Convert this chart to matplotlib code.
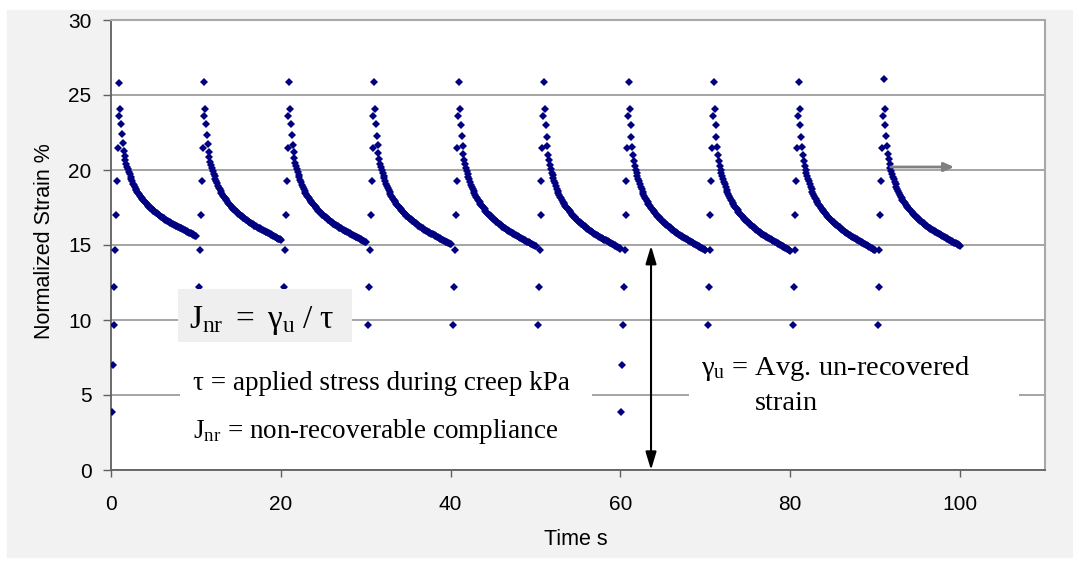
import numpy as np
import matplotlib.pyplot as plt
from matplotlib.patches import Rectangle

# --- data ---
cycle_start = [0, 10, 20, 30, 40, 50, 60, 70, 80, 90]
creep_offset = [0.1, 0.2, 0.3, 0.4, 0.5, 0.6, 0.7, 0.8, 0.9]
creep_strain = [3.9, 7.0, 9.7, 12.2, 14.7, 17.0, 19.3, 21.5, 23.6]
full_creep = [0, 60]  # cycles where the lowest creep points are visible
peak_strain = [25.8, 25.85, 25.85, 25.85, 25.85, 25.85, 25.85, 25.9, 25.9, 26.05]

# recovery of the first cycle, every 0.1 s from 1.1 s to 10.0 s
recovery_strain = [
    24.1, 23.1, 22.4, 21.8, 21.3, 20.95, 20.65, 20.42, 20.22, 20.05,
    19.88, 19.72, 19.56, 19.4, 19.25, 19.1, 18.98, 18.86, 18.75, 18.65,
    18.55, 18.46, 18.38, 18.3, 18.22, 18.15, 18.08, 18.01, 17.94, 17.87,
    17.8, 17.74, 17.67, 17.6, 17.55, 17.5, 17.45, 17.4, 17.35, 17.3,
    17.25, 17.2, 17.16, 17.12, 17.08, 17.03, 16.99, 16.95, 16.9, 16.85,
    16.81, 16.77, 16.73, 16.7, 16.66, 16.62, 16.59, 16.55, 16.52, 16.49,
    16.46, 16.43, 16.39, 16.36, 16.33, 16.3, 16.27, 16.24, 16.22, 16.19,
    16.16, 16.13, 16.1, 16.07, 16.04, 16.01, 15.98, 15.95, 15.92, 15.89,
    15.86, 15.83, 15.8, 15.77, 15.74, 15.71, 15.68, 15.65, 15.62, 15.6,
]
recovery_offset = np.arange(11, 101) / 10.0
# strain at the end of each recovery period
end_strain = [15.6, 15.35, 15.2, 15.05, 14.92, 14.75, 14.67, 14.62, 14.67, 14.95]

plt.rcParams["font.family"] = ["Liberation Sans", "DejaVu Sans"]
plt.rcParams["mathtext.fontset"] = "custom"
plt.rcParams["mathtext.rm"] = "Liberation Serif"
plt.rcParams["mathtext.it"] = "Liberation Serif:italic"
plt.rcParams["mathtext.bf"] = "Liberation Serif:bold"

# build the scatter points cycle by cycle
rec = np.array(recovery_strain)
t_pts, y_pts = [], []
for i, t0 in enumerate(cycle_start):
    first = 0 if t0 in full_creep else 2
    t_pts += [t0 + o for o in creep_offset[first:]]
    y_pts += creep_strain[first:]
    t_pts.append(t0 + 1.0)
    y_pts.append(peak_strain[i])
    # stretch the first-cycle recovery so it ends at this cycle's end value
    w = (rec[0] - rec) / (rec[0] - rec[-1])
    r = rec + (end_strain[i] - rec[-1]) * w
    t_pts += list(t0 + recovery_offset)
    y_pts += list(r)

fig = plt.figure(figsize=(10.73, 5.62), dpi=100, facecolor="white")
fig.patches.append(Rectangle((7 / 1073, 5 / 562), 1, 547 / 562,
                             transform=fig.transFigure, color="#f2f2f2", zorder=-10))
ax = fig.add_axes([111 / 1073, 1 - 470 / 562, 934 / 1073, 450 / 562])
ax.set_facecolor("white")

ax.plot(t_pts, y_pts, linestyle="none", marker="D", ms=3.9, mew=0,
        color="#000080", zorder=3)

ax.set_xlim(0, 110)
ax.set_ylim(0, 30)
ax.set_xticks([0, 20, 40, 60, 80, 100])
ax.set_yticks([0, 5, 10, 15, 20, 25, 30])
ax.set_axisbelow(True)
ax.grid(True, axis="y", color="#8c8c8c", lw=1.1)
ax.tick_params(axis="both", labelsize=15, direction="out", color="#606060", width=1)
ax.tick_params(axis="x", length=5, pad=13)
ax.tick_params(axis="y", length=6, pad=8)
for s in ["left", "bottom"]:
    ax.spines[s].set_color("#606060")
    ax.spines[s].set_linewidth(1.3)
for s in ["top", "right"]:
    ax.spines[s].set_color("#a8a8a8")
    ax.spines[s].set_linewidth(1.5)

ax.set_ylabel("Normalized Strain %", fontsize=15.5)
ax.yaxis.set_label_coords(-0.060, 0.508)
ax.set_xlabel("Time s", fontsize=15.5)
ax.xaxis.set_label_coords(0.498, -0.131)

# boxes behind the annotations
ax.add_patch(Rectangle((7.9, 8.53), 20.45, 3.54, facecolor="#efefef",
                       edgecolor="none", zorder=5))
ax.add_patch(Rectangle((8.1, 1.4), 48.6, 6.0, facecolor="white",
                       edgecolor="none", zorder=1.5))
ax.add_patch(Rectangle((68.1, 3.0), 38.8, 6.0, facecolor="white",
                       edgecolor="none", zorder=1.5))

serif = "Liberation Serif"
ax.text(9.18, 9.47, r"$\mathrm{J}_{\mathrm{nr}}\ =\ \mathrm{\gamma}_{\mathrm{u}}\ /\ \mathrm{\tau}$",
        fontsize=24, family=serif, va="baseline", zorder=6)
ax.text(9.65, 5.33, "τ = applied stress during creep kPa",
        fontsize=19.5, family=serif, va="baseline", zorder=6)
ax.text(9.65, 2.13, r"$\mathrm{J}_{\mathrm{nr}}$ = non-recoverable compliance",
        fontsize=19.5, family=serif, va="baseline", zorder=6)
ax.text(69.5, 6.33, r"$\mathrm{\gamma}_{\mathrm{u}}$ = Avg. un-recovered",
        fontsize=20.5, family=serif, va="baseline", zorder=6)
ax.text(75.8, 4.0, "strain", fontsize=20.5, family=serif, va="baseline", zorder=6)

# arrows
ax.annotate("", xy=(63.6, 0), xytext=(63.6, 14.95),
            arrowprops=dict(arrowstyle="<|-|>,head_length=0.6,head_width=0.18",
                            mutation_scale=18, color="black", lw=1.5,
                            shrinkA=0, shrinkB=0), zorder=7)
ax.annotate("", xy=(99.3, 20.2), xytext=(91.85, 20.2),
            arrowprops=dict(arrowstyle="-|>,head_length=0.5,head_width=0.22",
                            mutation_scale=12, color="#808080", lw=2,
                            shrinkA=0, shrinkB=0), zorder=7)

fig.savefig("out.png", dpi=100)
